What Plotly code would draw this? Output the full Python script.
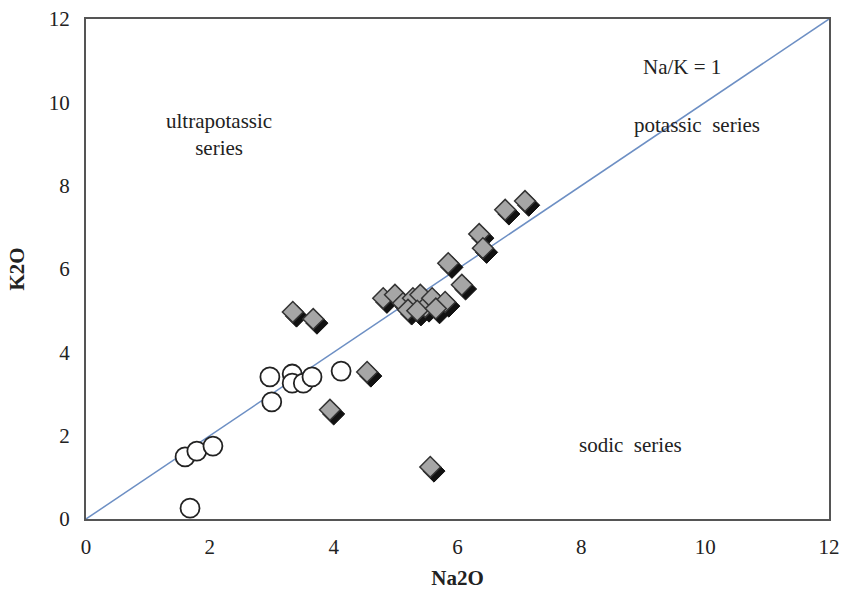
import plotly.graph_objects as go

# Open circles
circle_na2o = [1.60, 1.79, 2.05, 1.68, 2.97, 3.00, 3.33, 3.33, 3.51, 3.65, 4.12]
circle_k2o = [1.49, 1.63, 1.75, 0.26, 3.41, 2.81, 3.48, 3.26, 3.26, 3.41, 3.55]

# Grey diamonds
diamond_na2o = [3.34, 3.67, 4.54, 3.94, 5.56, 7.09, 6.77, 6.35, 6.41, 5.85, 6.07,
                4.80, 4.99, 5.12, 5.28, 5.40, 5.48, 5.59, 5.80, 5.20, 5.35, 5.65]
diamond_k2o = [4.97, 4.80, 3.53, 2.62, 1.25, 7.63, 7.42, 6.84, 6.50, 6.14, 5.62,
               5.30, 5.38, 5.18, 5.30, 5.38, 5.09, 5.30, 5.21, 5.02, 5.00, 5.05]

line_x = [0, 12]
line_y = [0, 12]
ticks = [0, 2, 4, 6, 8, 10, 12]

FONT = "Liberation Serif"

fig = go.Figure()

fig.add_trace(go.Scatter(x=line_x, y=line_y, mode="lines",
                         line=dict(color="#6d8fc4", width=1.5), hoverinfo="skip"))

# shadow for diamonds
fig.add_trace(go.Scatter(x=[v + 0.06 for v in diamond_na2o],
                         y=[v - 0.1 for v in diamond_k2o], mode="markers",
                         marker=dict(symbol="diamond", size=17, color="#111111",
                                     line=dict(color="#111111", width=1)),
                         hoverinfo="skip"))
fig.add_trace(go.Scatter(x=diamond_na2o, y=diamond_k2o, mode="markers",
                         marker=dict(symbol="diamond", size=16, color="#a6a6a6",
                                     line=dict(color="#333333", width=1.5))))
fig.add_trace(go.Scatter(x=circle_na2o, y=circle_k2o, mode="markers",
                         marker=dict(symbol="circle", size=19, color="white",
                                     line=dict(color="#222222", width=1.8))))

ann_font = dict(family=FONT, size=21, color="#222222")
fig.add_annotation(x=9.63, y=10.85, text="Na/K = 1", showarrow=False, font=ann_font)
fig.add_annotation(x=9.87, y=9.46, text="potassic  series", showarrow=False, font=ann_font)
fig.add_annotation(x=2.15, y=9.22, text="ultrapotassic<br>series", showarrow=False, font=ann_font)
fig.add_annotation(x=8.8, y=1.78, text="sodic  series", showarrow=False, font=ann_font)

axis_common = dict(range=[0, 12], tickvals=ticks, showgrid=False, zeroline=False,
                   showline=True, linecolor="#555555", linewidth=2, mirror=True,
                   ticks="", automargin=False,
                   tickfont=dict(family=FONT, size=21, color="#222222"))

fig.update_layout(
    width=844, height=595,
    margin=dict(l=86, r=15, t=19, b=76),
    paper_bgcolor="white", plot_bgcolor="white",
    showlegend=False,
    xaxis=dict(axis_common, ticklabelstandoff=8,
               title=dict(text="<b>Na2O</b>", font=dict(family=FONT, size=21, color="#222222"), standoff=12)),
    yaxis=dict(axis_common, ticklabelstandoff=10,
               title=dict(text="<b>K2O</b>", font=dict(family=FONT, size=21, color="#222222"), standoff=18)),
)

fig.write_html("out.html")
